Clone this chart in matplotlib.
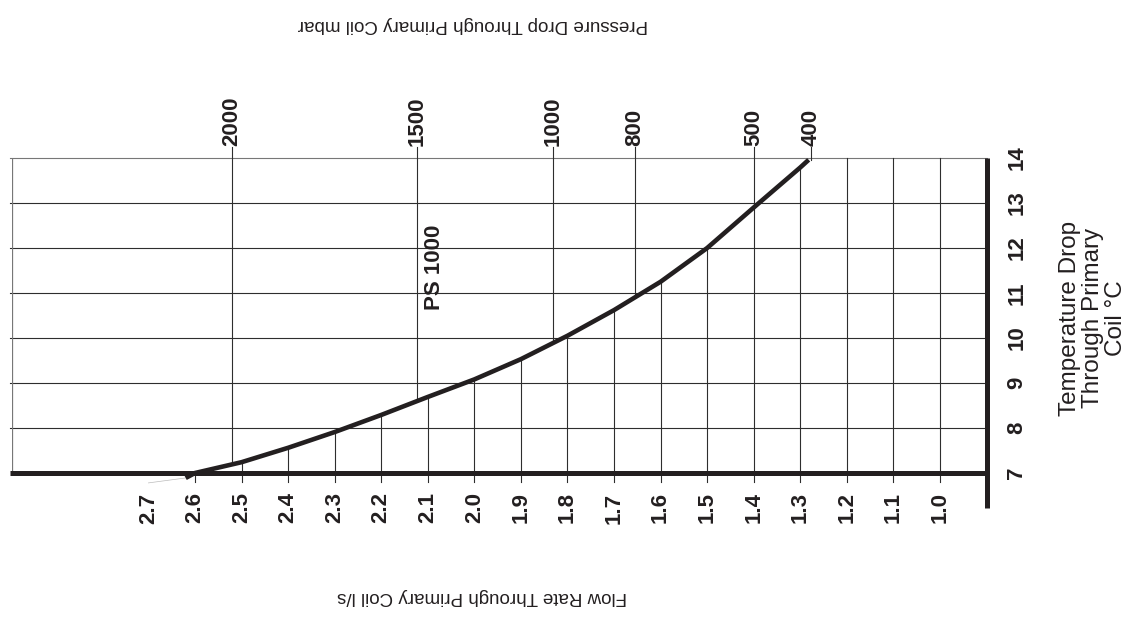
import numpy as np
import matplotlib
matplotlib.use('Agg')
import matplotlib.pyplot as plt

plt.rcParams['font.family'] = ['Liberation Sans', 'DejaVu Sans']

# curve PS 1000: flow rate (l/s) vs temperature drop (C)
flow = [2.62, 2.6, 2.5, 2.4, 2.3, 2.2, 2.1, 2.0, 1.9, 1.8, 1.7, 1.6, 1.5, 1.4, 1.3, 1.282]
temp = [6.89, 7.0, 7.24, 7.56, 7.91, 8.29, 8.69, 9.08, 9.53, 10.05, 10.62, 11.25, 12.0, 12.9, 13.79, 13.96]

# pressure drop markers (mbar) and the flow where they meet the curve
pressure_labels = ['2000', '1500', '1000', '800', '500', '400']
pressure_flow = [2.52, 2.123, 1.831, 1.655, 1.40, 1.277]

flow_ticks = [2.7, 2.6, 2.5, 2.4, 2.3, 2.2, 2.1, 2.0, 1.9, 1.8, 1.7, 1.6, 1.5, 1.4, 1.3, 1.2, 1.1, 1.0]
flow_tick_labels = ['2.7', '2.6', '2.5', '2.4', '2.3', '2.2', '2.1', '2.0', '1.9', '1.8',
                    '1.7', '1.6', '1.5', '1.4', '1.3', '1.2', '1.1', '1.0']
flow_lines = flow_ticks[1:]
temp_ticks = [7, 8, 9, 10, 11, 12, 13, 14]

W, H = 1136, 617
fig = plt.figure(figsize=(W / 100, H / 100), dpi=100)
ax = fig.add_axes([12 / W, (H - 473) / H, (987 - 12) / W, 315 / H])
ax.set_xlim(2.993, 0.899)
ax.set_ylim(7, 14)
for s in ax.spines.values():
    s.set_visible(False)

ink = '#231f20'
grid = '#2e2e2e'

# horizontal grid
for t in temp_ticks[1:]:
    ax.plot([2.997, 0.899], [t, t], color=grid if t < 14 else '#777777', lw=0.8, clip_on=False)
ax.plot([2.993, 2.993], [7, 14], color='#777777', lw=0.9)

# flow lines: from below axis up to the curve (or full height past curve end)
cf = flow[::-1]
ct = temp[::-1]
for f in flow_lines:
    top = np.interp(f, cf, ct) if f >= flow[-1] else 14
    ax.plot([f, f], [6.8, top], color=grid, lw=0.8, clip_on=False)

# pressure lines: from curve up past top
for f, lab in zip(pressure_flow, pressure_labels):
    bot = min(np.interp(f, cf, ct), 14)
    ax.plot([f, f], [bot, 14.24], color=grid, lw=0.8, clip_on=False)
    ax.text(f, 14.26, lab, rotation=90, ha='center', va='bottom', fontsize=16,
            fontweight='bold', color=ink, clip_on=False)

# thick axes
ax.plot([2.997, 0.899], [7, 7], color=ink, lw=3.6, clip_on=False, solid_capstyle='butt')
ax.plot([0.899, 0.899], [14, 6.22], color=ink, lw=3.6, clip_on=False, solid_capstyle='butt')

# curve
ax.plot([2.7, flow[0]], [6.78, temp[0]], color='#bbbbbb', lw=0.5, clip_on=False)
ax.plot(flow, temp, color=ink, lw=3.3, clip_on=False, solid_capstyle='butt', solid_joinstyle='round')
ax.text(2.085, 11.58, 'PS 1000', rotation=90, ha='center', va='center', fontsize=16,
        fontweight='bold', color=ink)

# tick labels
ax.set_xticks(flow_ticks)
ax.set_xticklabels(flow_tick_labels, rotation=90, fontsize=16, fontweight='bold', color=ink)
ax.tick_params(axis='x', length=0, pad=14)
ax.yaxis.tick_right()
ax.set_yticks(temp_ticks)
ax.set_yticklabels([str(t) for t in temp_ticks], rotation=90, va='center', fontsize=16,
                   fontweight='bold', color=ink)
ax.tick_params(axis='y', length=0, pad=14)

# titles
fig.text(473 / W, 1 - 25 / H, 'Pressure Drop Through Primary Coil mbar', rotation=180,
         ha='center', va='center', fontsize=13.5, color=ink)
fig.text(482 / W, 1 - 597 / H, 'Flow Rate Through Primary Coil l/s', rotation=180,
         ha='center', va='center', fontsize=13.5, color=ink)
fig.text(1093 / W, 1 - 318 / H, 'Temperature Drop\nThrough Primary\nCoil \u00b0C', rotation=90,
         ha='center', va='center', multialignment='center', fontsize=17.5, color=ink,
         linespacing=1.05)

fig.savefig('out.png', dpi=100, facecolor='white')
